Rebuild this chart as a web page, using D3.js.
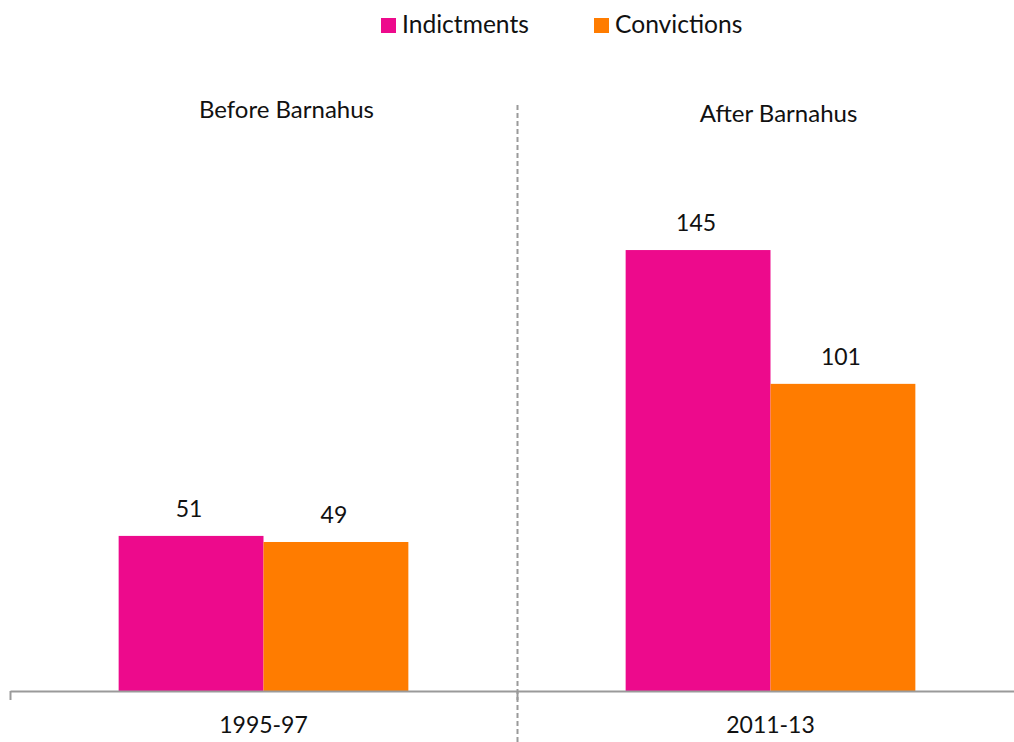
<!DOCTYPE html>
<html>
<head>
<meta charset="utf-8">
<script src="https://cdn.jsdelivr.net/npm/d3@7/dist/d3.min.js"></script>
<style>
  html, body { margin: 0; padding: 0; background: #fff; }
  svg { display: block; font-family: Lato, "Open Sans", sans-serif; }
</style>
</head>
<body>
<div id="chart"></div>
<script>
  "use strict";

  // data
  var periods = ["1995-97", "2011-13"];
  var periodTitles = ["Before Barnahus", "After Barnahus"];
  var seriesNames = ["Indictments", "Convictions"];
  var indictments = [51, 145];
  var convictions = [49, 101];

  var colors = { "Indictments": "#ED0A8C", "Convictions": "#FF7C00" };

  var width = 1014, height = 742;
  var baseY = 691;

  var svg = d3.select("#chart").append("svg")
    .attr("width", width)
    .attr("height", height);

  var x0 = d3.scaleBand().domain(periods).range([10, 1024]);
  var x1 = d3.scaleBand().domain(seriesNames).range([0, x0.bandwidth()])
    .paddingInner(0).paddingOuter(0.75);
  var y = d3.scaleLinear().domain([0, 160]).range([baseY, baseY - 160 * 3.041]);

  var rows = periods.map(function (p, i) {
    return { period: p, values: [
      { key: "Indictments", value: indictments[i] },
      { key: "Convictions", value: convictions[i] }
    ] };
  });

  // group divider (dashed)
  svg.append("line")
    .attr("x1", x0(periods[1]) + 0.5).attr("x2", x0(periods[1]) + 0.5)
    .attr("y1", 105).attr("y2", height)
    .attr("stroke", "#9a9a9a")
    .attr("stroke-width", 2)
    .attr("stroke-dasharray", "5,3");

  // bars
  var group = svg.selectAll(".grp")
    .data(rows)
    .enter().append("g")
    .attr("class", "grp")
    .attr("transform", function (d) { return "translate(" + x0(d.period) + ",0)"; });

  group.selectAll("rect")
    .data(function (d) { return d.values; })
    .enter().append("rect")
    .attr("x", function (d) { return x1(d.key); })
    .attr("width", x1.bandwidth())
    .attr("y", function (d) { return y(d.value); })
    .attr("height", function (d) { return baseY - y(d.value); })
    .attr("fill", function (d) { return colors[d.key]; });

  group.selectAll("text.val")
    .data(function (d) { return d.values; })
    .enter().append("text")
    .attr("class", "val")
    .attr("x", function (d) { return x1(d.key) + x1.bandwidth() / 2 - 2; })
    .attr("y", function (d) { return y(d.value) - 19; })
    .attr("text-anchor", "middle")
    .attr("font-size", "23px")
    .attr("fill", "#111")
    .text(function (d) { return d.value; });

  // x axis
  var xAxis = d3.axisBottom(x0).tickSize(0).tickPadding(26);
  var axisG = svg.append("g")
    .attr("transform", "translate(0," + baseY + ")")
    .call(xAxis);
  axisG.select(".domain").attr("stroke", "#9a9a9a").attr("stroke-width", 2);
  axisG.selectAll(".tick text")
    .attr("font-size", "23px")
    .attr("font-family", "Lato, 'Open Sans', sans-serif")
    .attr("fill", "#111");

  // boundary ticks between categories
  axisG.selectAll(".bound")
    .data(periods)
    .enter().append("line")
    .attr("class", "bound")
    .attr("x1", function (d) { return x0(d) + 0.5; })
    .attr("x2", function (d) { return x0(d) + 0.5; })
    .attr("y1", 0).attr("y2", 9)
    .attr("stroke", "#9a9a9a")
    .attr("stroke-width", 2);

  // period titles
  var titleOffsets = [23, 8];
  var titleY = [118, 122];
  svg.selectAll(".ptitle")
    .data(periodTitles)
    .enter().append("text")
    .attr("class", "ptitle")
    .attr("x", function (d, i) { return x0(periods[i]) + x0.bandwidth() / 2 + titleOffsets[i]; })
    .attr("y", function (d, i) { return titleY[i]; })
    .attr("text-anchor", "middle")
    .attr("font-size", "24px")
    .attr("fill", "#111")
    .text(function (d) { return d; });

  // legend
  var legendX = [381, 594];
  var legend = svg.selectAll(".leg")
    .data(seriesNames)
    .enter().append("g")
    .attr("class", "leg")
    .attr("transform", function (d, i) { return "translate(" + legendX[i] + ",18)"; });

  legend.append("rect")
    .attr("width", 15).attr("height", 15)
    .attr("fill", function (d) { return colors[d]; });

  legend.append("text")
    .attr("x", 21)
    .attr("y", 14.5)
    .attr("font-size", "24.6px")
    .attr("fill", "#111")
    .text(function (d) { return d; });
</script>
</body>
</html>
